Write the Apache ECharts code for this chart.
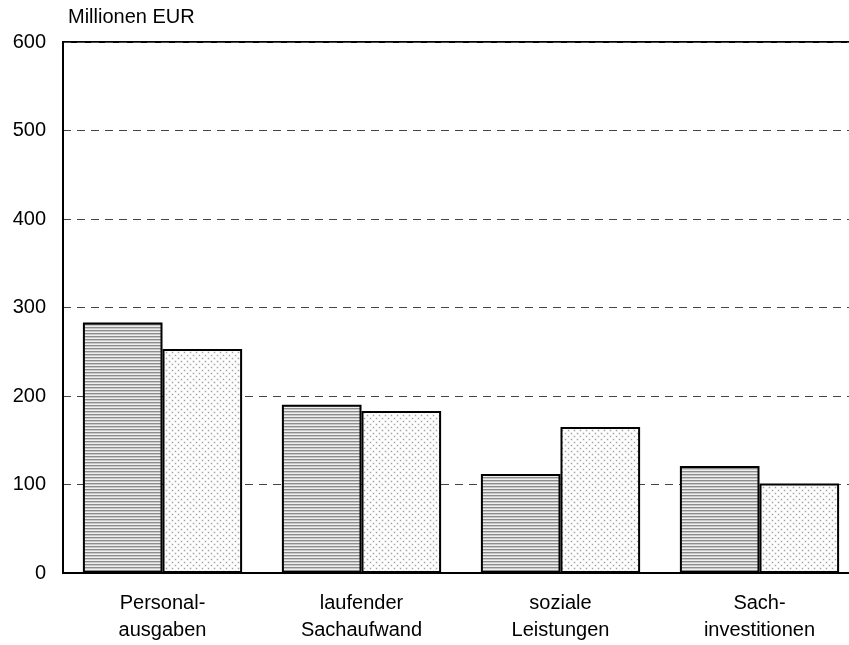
<!DOCTYPE html>
<html><head><meta charset="utf-8">
<script src="https://cdn.jsdelivr.net/npm/echarts@6/dist/echarts.min.js"></script>
<style>html,body{margin:0;padding:0;background:#fff;overflow:hidden}#c{width:859px;height:645px}</style>
</head><body><div id="c"></div>
<script>
const categories = ['Personal-\nausgaben', 'laufender\nSachaufwand', 'soziale\nLeistungen', 'Sach-\ninvestitionen'];
const series1 = [283, 190, 112, 121];
const series2 = [253, 183, 165, 101];
const yTicks = [0, 100, 200, 300, 400, 500, 600];

function stripes() {
  const c = document.createElement('canvas'); c.width = 4; c.height = 3;
  const g = c.getContext('2d');
  g.fillStyle = '#efefef'; g.fillRect(0, 0, 4, 3);
  g.fillStyle = '#8c8c8c'; g.fillRect(0, 0, 4, 1);
  g.fillStyle = '#c8c8c8'; g.fillRect(0, 1, 4, 1);
  return c;
}
function dots() {
  const c = document.createElement('canvas'); c.width = 6; c.height = 6;
  const g = c.getContext('2d');
  g.fillStyle = '#fff'; g.fillRect(0, 0, 6, 6);
  g.fillStyle = '#d6d6d6';
  g.fillRect(0.5, 0.5, 2, 2); g.fillRect(3.5, 3.5, 2, 2);
  g.fillStyle = '#a0a0a0';
  g.fillRect(1, 1, 1, 1); g.fillRect(4, 4, 1, 1);
  return c;
}
const chart = echarts.init(document.getElementById('c'), null, {renderer: 'canvas'});
const font = 'Liberation Sans, Arial, sans-serif';
chart.setOption({
  animation: false,
  grid: {left: 63, right: 0, top: 42, bottom: 72, show: true, borderColor: '#000', borderWidth: 2, backgroundColor: 'transparent'},
  xAxis: {
    type: 'category', data: categories,
    axisLine: {show: true, lineStyle: {color: '#000', width: 2}},
    axisTick: {show: false},
    axisLabel: {color: '#000', fontSize: 20, fontFamily: font, lineHeight: 27, margin: 17}
  },
  yAxis: {
    type: 'value', min: 0, max: 600, interval: 100,
    name: 'Millionen EUR', nameLocation: 'end', nameGap: 15,
    nameTextStyle: {color: '#000', fontSize: 20, fontFamily: font, align: 'left', padding: [0, 0, 0, 5]},
    axisLine: {show: true, lineStyle: {color: '#000', width: 2}},
    axisTick: {show: false},
    axisLabel: {color: '#000', fontSize: 20, fontFamily: font, margin: 17,
      formatter: v => yTicks.includes(v) ? String(v) : ''},
    splitLine: {show: true, lineStyle: {color: '#444', width: 1, type: [8, 6]}}
  },
  series: [
    {type: 'bar', data: series1, barWidth: '40%', barGap: '0%',
     itemStyle: {color: {image: stripes(), repeat: 'repeat'}, borderColor: '#000', borderWidth: 2}},
    {type: 'bar', data: series2, barWidth: '40%', barGap: '0%',
     itemStyle: {color: {image: dots(), repeat: 'repeat'}, borderColor: '#000', borderWidth: 2}}
  ]
});
</script></body></html>
